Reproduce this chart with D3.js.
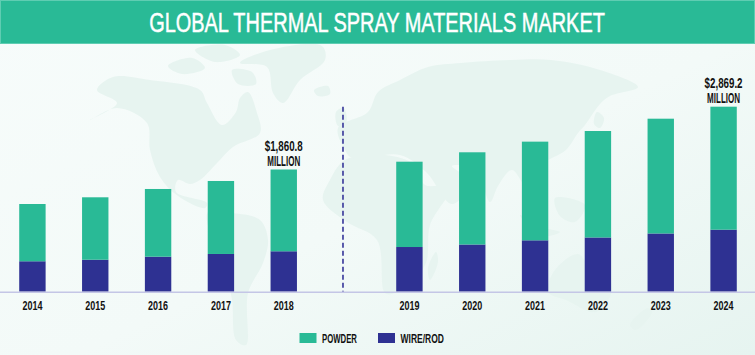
<!DOCTYPE html>
<html>
<head>
<meta charset="utf-8">
<script src="https://d3js.org/d3.v7.min.js"></script>
<style>
  html, body { margin: 0; padding: 0; background: #fff; }
  svg { display: block; }
  text { font-family: "Liberation Sans", sans-serif; }
</style>
</head>
<body>
<div id="chart"></div>
<script>
// Values ("" is the empty slot where the divider sits).
const years = ['2014', '2015', '2016', '2017', '2018', '', '2019', '2020', '2021', '2022', '2023', '2024'];
const powder = [888, 968, 1050, 1132, 1268, 0, 1323, 1430, 1530, 1651, 1780, 1907];
const wireRod = [472, 496, 543, 585, 627, 0, 693, 732, 797, 841, 903, 962];
const seriesNames = ['POWDER', 'WIRE/ROD'];
const seriesColors = ['#29ba96', '#2e3192'];
const callouts = [
    { year: '2018', lines: ['$1,860.8', 'MILLION'] },
    { year: '2024', lines: ['$2,869.2', 'MILLION'] }
];

// Rough outlines for the faint world map behind the bars.
const landShapes = [
    [[90,120],[117,103],[97,90],[113,77],[150,80],[200,90],[207,103],[222,125],[236,112],[240,98],[248,92],[257,113],[260,133],[233,147],[217,163],[200,180],[190,184],[178,180],[176,192],[207,203],[205,208],[178,196],[160,177],[150,150],[147,123],[117,108]],
    [[240,63],[267,67],[273,93],[283,103],[300,80],[325,60],[322,46],[270,50]],
    [[168,66],[192,58],[205,68],[182,74]],
    [[195,50],[225,45],[240,55],[215,62]],
    [[232,70],[252,72],[256,84],[238,84]],
    [[314,90],[328,86],[330,94],[318,96]],
    [[208,212],[233,213],[260,220],[268,240],[263,263],[248,293],[246,345],[236,340],[232,300],[225,270],[212,240]],
    [[330,180],[345,160],[385,155],[415,165],[425,185],[451,186],[430,225],[425,265],[395,293],[385,293],[377,240],[347,222],[323,200]],
    [[345,150],[338,128],[368,112],[378,92],[400,80],[428,67],[461,63],[511,60],[551,60],[600,70],[638,87],[610,96],[600,104],[585,125],[578,133],[566,150],[542,165],[530,192],[512,170],[498,186],[490,202],[476,170],[452,166],[470,182],[452,204],[426,172],[400,155],[352,158]],
    [[548,292],[555,270],[578,254],[590,266],[600,258],[612,290],[596,312],[566,300]],
    [[428,268],[436,252],[438,262],[430,280]],
    [[520,215],[545,228],[560,232],[540,236]],
    [[555,198],[585,205],[575,222],[560,216]],
    [[597,112],[604,118],[600,128],[594,124]],
    [[630,325],[648,308],[652,312],[636,330]],
    [[336,112],[344,108],[346,124],[338,126]]
];

const width = 755;
const height = 355;
const baseline = 291.7;
const chartTop = 106.7;

const svg = d3.select('#chart').append('svg')
    .attr('width', width)
    .attr('height', height);

// Background wash.
const defs = svg.append('defs');
const wash = defs.append('linearGradient')
    .attr('id', 'wash')
    .attr('x1', '0').attr('y1', '0')
    .attr('x2', '1').attr('y2', '1');
wash.append('stop').attr('offset', '0%').attr('stop-color', '#f7fcfb');
wash.append('stop').attr('offset', '55%').attr('stop-color', '#f3faf8');
wash.append('stop').attr('offset', '100%').attr('stop-color', '#e6f4f0');
svg.append('rect')
    .attr('width', width)
    .attr('height', height)
    .attr('fill', 'url(#wash)');

// World map.
const landLine = d3.line().curve(d3.curveCatmullRomClosed.alpha(0.5));
svg.append('g').selectAll('path')
    .data(landShapes)
    .enter()
    .append('path')
        .attr('d', d => landLine(d))
        .attr('fill', '#e7f4f0');

// The reference lettering is condensed, so every text is narrowed to its measured width.
const label = (parent, str, px, py, size, len, anchor, weight) => {
    const t = parent.append('text')
        .attr('text-anchor', anchor || 'middle')
        .attr('fill', '#111')
        .style('font-size', `${size}px`)
        .style('font-weight', weight || 'bold')
        .text(str);
    const squeeze = len / t.node().getComputedTextLength();
    return t.attr('transform', `translate(${px},${py}) scale(${squeeze},1)`);
};

// Title band.
svg.append('rect')
    .attr('x', 0.5).attr('y', 0.5)
    .attr('width', width - 1).attr('height', 43)
    .attr('fill', '#29ba96')
    .attr('stroke', '#5fcdb2');
label(svg, 'GLOBAL THERMAL SPRAY MATERIALS MARKET', 377, 32, 28, 456, 'middle', 'normal')
    .attr('fill', '#fff')
    .attr('stroke', '#fff')
    .attr('stroke-width', 0.5);

// Scales.
const x = d3.scaleBand()
    .domain(years)
    .range([1, 755])
    .paddingInner(0.58)
    .paddingOuter(0.29);
const y = d3.scaleLinear()
    .domain([0, 2869])
    .range([baseline, chartTop]);

// Divider between history and forecast, a little left of its slot centre.
const dividerX = x('') + x.bandwidth() / 2 - 3.6;
svg.append('line')
    .attr('x1', dividerX)
    .attr('x2', dividerX)
    .attr('y1', chartTop)
    .attr('y2', baseline)
    .attr('stroke', '#4a4aa3')
    .attr('stroke-width', 1.8)
    .attr('stroke-dasharray', '5,3');

// Stacked bars, wire/rod at the bottom.
const rows = years.map((year, i) => ({ year, powder: powder[i], wireRod: wireRod[i] }));
const stacked = d3.stack().keys(['wireRod', 'powder'])(rows.filter(d => d.year));
const colorOf = { wireRod: seriesColors[1], powder: seriesColors[0] };
svg.selectAll('g.layer')
    .data(stacked)
    .enter()
    .append('g')
        .attr('class', 'layer')
        .attr('fill', d => colorOf[d.key])
    .selectAll('rect')
    .data(d => d)
    .enter()
    .append('rect')
        .attr('x', d => x(d.data.year))
        .attr('y', d => y(d[1]))
        .attr('width', x.bandwidth())
        .attr('height', d => y(d[0]) - y(d[1]));

// X axis.
const xGroup = svg.append('g')
    .attr('transform', `translate(0, ${baseline})`)
    .call(d3.axisBottom(x).tickSize(0).tickPadding(9).tickValues(years.filter(d => d)));
xGroup.select('.domain')
    .attr('stroke', '#c4c6e6')
    .attr('stroke-width', 1.5)
    .attr('d', `M0,0.5H${width}`);
xGroup.selectAll('text')
    .attr('fill', '#111')
    .style('font-family', '"Liberation Sans", sans-serif')
    .style('font-size', '12.5px')
    .style('font-weight', 'bold')
    .attr('transform', function () {
        return `scale(${20 / this.getComputedTextLength()},1)`;
    });

// Callouts above the two marked bars.
const totalOf = year => {
    const i = years.indexOf(year);
    return powder[i] + wireRod[i];
};
callouts.forEach(c => {
    const cx = x(c.year) + x.bandwidth() / 2;
    const top = y(totalOf(c.year));
    label(svg, c.lines[0], cx, top - 19, 14, 38);
    label(svg, c.lines[1], cx, top - 3.3, 14, 33);
});

// Legend.
const legendItems = [
    { x: 299.5, name: seriesNames[0], color: seriesColors[0], textWidth: 35 },
    { x: 378, name: seriesNames[1], color: seriesColors[1], textWidth: 43.5 }
];
const legend = svg.append('g').attr('transform', 'translate(0, 333)');
legendItems.forEach(d => {
    legend.append('rect')
        .attr('x', d.x)
        .attr('width', 17)
        .attr('height', 10)
        .attr('fill', d.color);
    label(legend, d.name, d.x + 22.5, 9.7, 13.5, d.textWidth, 'start');
});
</script>
</body>
</html>
